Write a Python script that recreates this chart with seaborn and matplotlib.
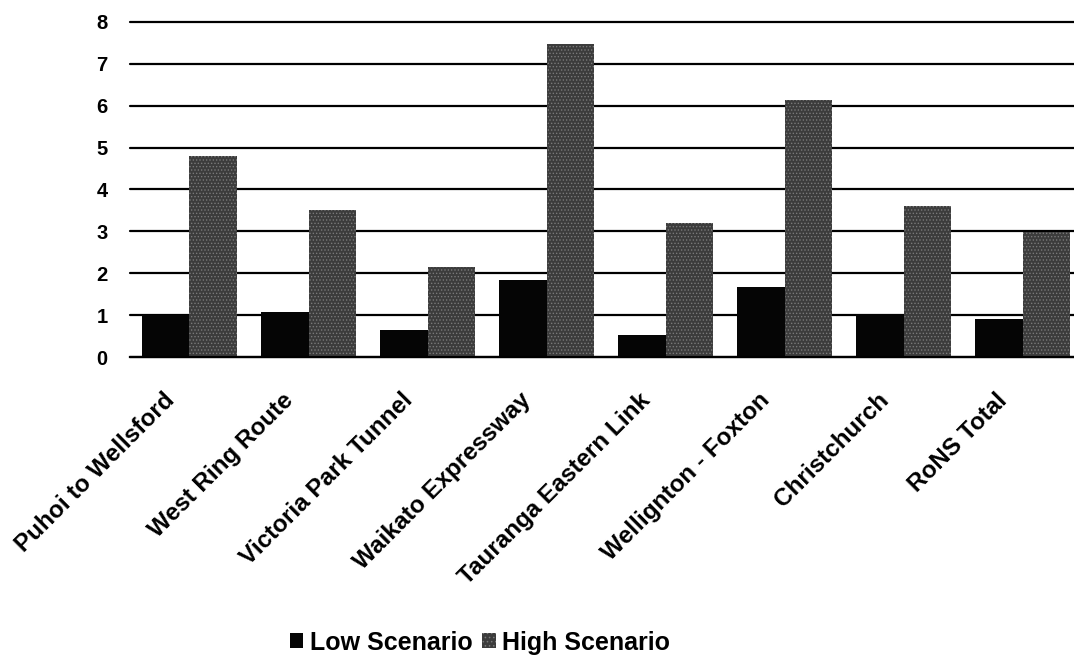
import matplotlib
matplotlib.use("Agg")
import matplotlib.pyplot as plt
import matplotlib.transforms as mtransforms
import seaborn as sns
import pandas as pd
from matplotlib.patches import Patch

projects = ["Puhoi to Wellsford", "West Ring Route", "Victoria Park Tunnel",
            "Waikato Expressway", "Tauranga Eastern Link", "Wellignton - Foxton",
            "Christchurch", "RoNS Total"]
low_scenario = [1.0, 1.08, 0.64, 1.84, 0.53, 1.68, 1.03, 0.91]
high_scenario = [4.8, 3.52, 2.15, 7.47, 3.2, 6.13, 3.61, 2.99]
series_names = ["Low Scenario", "High Scenario"]
y_ticks = [0, 1, 2, 3, 4, 5, 6, 7, 8]

df = pd.DataFrame({
    "project": projects * 2,
    "value": low_scenario + high_scenario,
    "scenario": [series_names[0]] * len(projects) + [series_names[1]] * len(projects),
})

sns.set_theme(style="white")
plt.rcParams["font.family"] = ["Liberation Sans", "DejaVu Sans"]
plt.rcParams["text.color"] = "black"
plt.rcParams["xtick.color"] = "black"
plt.rcParams["ytick.color"] = "black"
plt.rcParams["hatch.linewidth"] = 0.6

fig = plt.figure(figsize=(10.74, 6.59), dpi=100)
ax = fig.add_axes([0.121, 0.458, 0.879, 0.509])

palette = {series_names[0]: "#050505", series_names[1]: "#3c3c3c"}
sns.barplot(data=df, x="project", y="value", hue="scenario", order=projects,
            hue_order=series_names, palette=palette, width=0.8, saturation=1,
            edgecolor="none", ax=ax, legend=False)

# stippled texture on the high-scenario bars
for container, name in zip(ax.containers, series_names):
    if name == series_names[1]:
        for bar in container:
            bar.set_hatch(".....")
            bar.set_edgecolor("#7a7a7a")
            bar.set_linewidth(0)

ax.set_ylim(0, 8)
ax.set_xlim(-0.5, 7.43)
ax.set_yticks(y_ticks)
ax.set_yticklabels([str(v) for v in y_ticks], fontsize=14.5, fontweight="bold")
ax.yaxis.grid(True, color="black", linewidth=1.6)
for gl in ax.get_ygridlines():
    gl.set_clip_on(False)
ax.set_axisbelow(True)
for side in ["top", "right", "left"]:
    ax.spines[side].set_visible(False)
ax.spines["bottom"].set_color("black")
ax.spines["bottom"].set_linewidth(1.6)
ax.tick_params(axis="y", length=0, pad=16)
ax.tick_params(axis="x", length=0, pad=14)
ax.set_xlabel("")
ax.set_ylabel("")
ax.set_xticks(range(len(projects)))
ax.set_xticklabels(projects, rotation=45, ha="right", rotation_mode="anchor",
                   fontsize=17.5, fontweight="bold")
shift = mtransforms.ScaledTranslation(-0.27, -0.12, fig.dpi_scale_trans)
for lbl in ax.get_xticklabels():
    lbl.set_transform(lbl.get_transform() + shift)

high_handle = Patch(facecolor=palette[series_names[1]], edgecolor="#7a7a7a",
                    linewidth=0, hatch="....")
handles = [Patch(facecolor=palette[series_names[0]], edgecolor="none"), high_handle]
fig.legend(handles, series_names, loc="center", bbox_to_anchor=(0.447, 0.025),
           ncol=2, frameon=False, handlelength=0.55, handleheight=0.55,
           handletextpad=0.25, columnspacing=0.4, borderpad=0,
           prop={"size": 18, "weight": "bold"})

fig.savefig("out.png", dpi=100, facecolor="white")
